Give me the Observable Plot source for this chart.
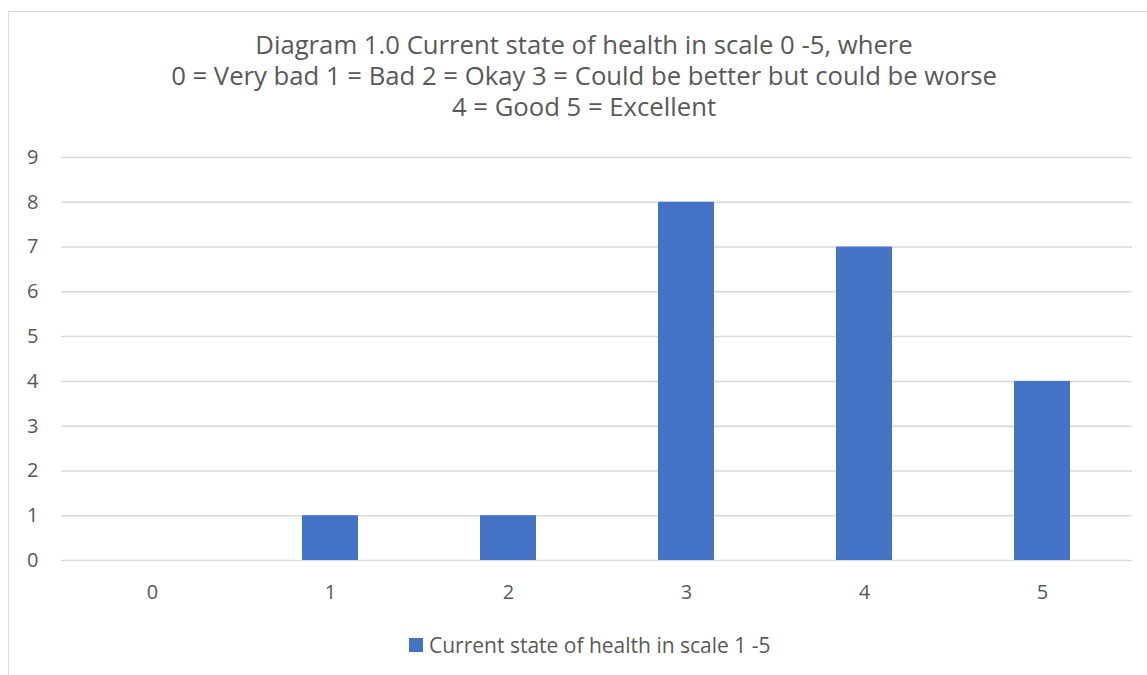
<!DOCTYPE html>
<html>
<head>
<meta charset="utf-8">
<script src="https://cdn.jsdelivr.net/npm/d3@7"></script>
<script src="https://cdn.jsdelivr.net/npm/@observablehq/plot@0.6"></script>
<style>
  html, body { margin: 0; padding: 0; background: #fff; width: 1147px; height: 675px; overflow: hidden; position: relative; }
  #frame { position: absolute; left: 8px; top: 11px; width: 1152px; height: 700px; border: 1.5px solid #d9d9d9; box-sizing: border-box; }
  .tline { position: absolute; left: 8px; width: 1152px; height: 31px; text-align: center; font-family: "Open Sans", sans-serif; font-size: 25.7px; line-height: 31px; color: #595959; white-space: nowrap; }
  #chart { position: absolute; left: 8px; top: 140px; width: 1152px; }
  #chart svg { max-width: none !important; }
  #legend-sw { position: absolute; left: 409px; top: 638px; width: 14px; height: 14px; background: #4472C4; }
  #legtext { position: absolute; left: 429px; top: 630px; line-height: 30px; font-family: "Open Sans", sans-serif; font-size: 21px; color: #595959; white-space: nowrap; }
</style>
</head>
<body>
<div id="frame"></div>
<div class="tline" style="top:29px">Diagram 1.0 Current state of health in scale 0 -5, where</div>
<div class="tline" style="top:60px">0 = Very bad 1 = Bad 2 = Okay 3 = Could be better but could be worse</div>
<div class="tline" style="top:91px">4 = Good 5 = Excellent</div>
<div id="chart"></div>
<div id="legend-sw"></div><div id="legtext"></div>
<script>
const categories = ["0", "1", "2", "3", "4", "5"];
const counts = [0, 1, 1, 8, 7, 4];
const yTicks = [0, 1, 2, 3, 4, 5, 6, 7, 8, 9];
const seriesName = "Current state of health in scale 1 -5";

const data = categories.map((c, i) => ({category: c, value: counts[i]}));
document.getElementById("legtext").textContent = seriesName;

const chart = Plot.plot({
  width: 1152,
  height: 480,
  marginLeft: 53,
  marginRight: 28,
  marginTop: 17,
  marginBottom: 60,
  style: {fontFamily: "'Open Sans', sans-serif", fontSize: "20px", color: "#595959", background: "transparent", maxWidth: "none", overflow: "visible"},
  x: {domain: categories, paddingInner: 0.686, paddingOuter: 0.343, label: null},
  y: {domain: [0, 9], label: null},
  marks: [
    Plot.gridY(yTicks, {stroke: "#d9d9d9", strokeOpacity: 1, strokeWidth: 1.5}),
    Plot.barY(data, {x: "category", y: "value", fill: "#4472C4"}),
    Plot.axisY(yTicks, {tickSize: 0, tickPadding: 23, fill: "#595959", fontSize: 20}),
    Plot.axisX({tickSize: 0, tickPadding: 24, fill: "#595959", fontSize: 20})
  ]
});
document.getElementById("chart").appendChild(chart);
</script>
</body>
</html>
